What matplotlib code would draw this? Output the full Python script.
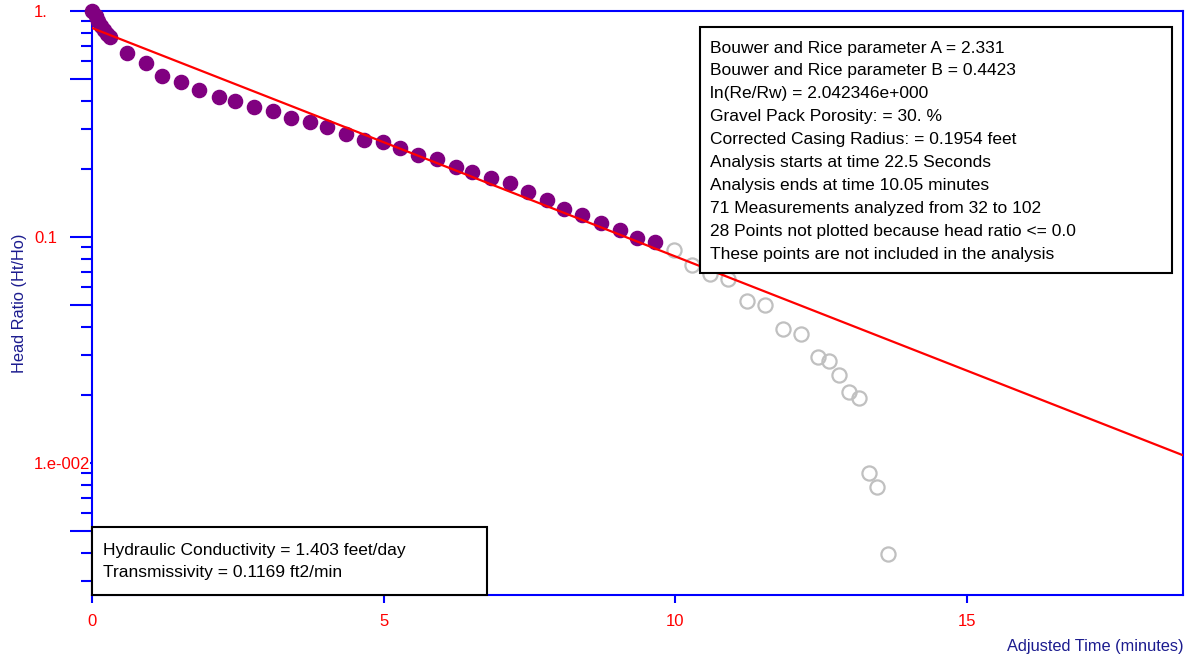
import matplotlib.pyplot as plt
from matplotlib.patches import Rectangle

plt.rcParams['font.family'] = ['Liberation Sans', 'DejaVu Sans']

# measurements used in the analysis (adjusted time in minutes, head ratio Ht/Ho)
t_used = [0.0, 0.06, 0.11, 0.16, 0.21, 0.26, 0.30, 0.60, 0.93, 1.20, 1.53,
          1.84, 2.18, 2.45, 2.78, 3.10, 3.41, 3.74, 4.03, 4.35, 4.66, 4.99,
          5.28, 5.59, 5.91, 6.24, 6.51, 6.84, 7.16, 7.47, 7.80, 8.09, 8.40,
          8.72, 9.05, 9.34, 9.65]
h_used = [1.0, 0.950, 0.903, 0.858, 0.824, 0.791, 0.767, 0.652, 0.589, 0.516,
          0.485, 0.447, 0.416, 0.400, 0.376, 0.361, 0.336, 0.323, 0.307, 0.286,
          0.269, 0.262, 0.248, 0.231, 0.221, 0.204, 0.194, 0.182, 0.173, 0.158,
          0.146, 0.133, 0.125, 0.115, 0.107, 0.0990, 0.0950]

# later measurements, plotted but left out of the fit
t_excl = [9.97, 10.28, 10.60, 10.90, 11.22, 11.53, 11.85, 12.15, 12.45, 12.64,
          12.81, 12.97, 13.14, 13.31, 13.46, 13.64]
h_excl = [0.0876, 0.0752, 0.0686, 0.0652, 0.0521, 0.0500, 0.0392, 0.0372,
          0.0294, 0.0283, 0.0245, 0.0206, 0.0194, 0.00903, 0.00783, 0.00396]

# Bouwer and Rice straight-line fit
t_line = [0.0, 18.7]
h_line = [0.841, 0.0108]

x_ticks = [0, 5, 10, 15]
y_major = [1.0, 0.5, 0.1, 0.05, 0.01, 0.005]
y_major_labels = ['1.', '', '0.1', '', '1.e-002', '']
y_minor = [0.9, 0.8, 0.7, 0.6, 0.4, 0.3, 0.2,
           0.09, 0.08, 0.07, 0.06, 0.04, 0.03, 0.02,
           0.009, 0.008, 0.007, 0.006, 0.004, 0.003]

params_lines = [
    'Bouwer and Rice parameter A = 2.331',
    'Bouwer and Rice parameter B = 0.4423',
    'ln(Re/Rw) = 2.042346e+000',
    'Gravel Pack Porosity: = 30. %',
    'Corrected Casing Radius: = 0.1954 feet',
    'Analysis starts at time 22.5 Seconds',
    'Analysis ends at time 10.05 minutes',
    '71 Measurements analyzed from 32 to 102',
    '28 Points not plotted because head ratio <= 0.0',
    'These points are not included in the analysis',
]
result_lines = [
    'Hydraulic Conductivity = 1.403 feet/day',
    'Transmissivity = 0.1169 ft2/min',
]

blue = '#0000ff'
navy = '#1c1c8f'

fig = plt.figure(figsize=(11.89, 6.56), dpi=100)
ax = fig.add_axes([0.0774, 0.093, 0.9176, 0.8902])

ax.plot(t_excl, h_excl, 'o', ms=10.2, mfc='none', mec='#c0c0c0', mew=1.6, zorder=3)
ax.plot(t_used, h_used, 'o', ms=10.2, color='#800080', mec='#800080',
        clip_on=False, zorder=4)
ax.plot(t_line, h_line, color='red', lw=1.6, zorder=5)

ax.set_yscale('log')
ax.set_xlim(0, 18.7)
ax.set_ylim(0.0026, 1.0)

ax.set_xticks(x_ticks, labels=[str(v) for v in x_ticks])
ax.set_yticks(y_major, labels=y_major_labels, ha='left')
ax.set_yticks(y_minor, minor=True)
ax.yaxis.set_minor_formatter(plt.NullFormatter())

ax.tick_params(axis='x', colors=blue, labelcolor='red', labelsize=12,
               length=5.8, width=1.5, pad=8)
ax.tick_params(axis='y', which='major', colors=blue, labelcolor='red',
               labelsize=12, length=15.8, width=1.5, pad=26)
ax.tick_params(axis='y', which='minor', colors=blue, length=7.9, width=1.5)
for lbl in ax.get_yticklabels():
    lbl.set_bbox(dict(facecolor='white', edgecolor='none', pad=0))

for sp in ax.spines.values():
    sp.set_color(blue)
    sp.set_linewidth(1.5)

ax.set_xlabel('Adjusted Time (minutes)', loc='right', color=navy,
              fontsize=11.8, labelpad=7)
ax.set_ylabel('Head Ratio (Ht/Ho)', color=navy, fontsize=11.8, labelpad=5)

# parameter box, upper right
fig.patches.append(Rectangle((0.5887, 0.5838), 0.3970, 0.3750,
                             transform=fig.transFigure, facecolor='white',
                             edgecolor='black', lw=1.5, zorder=6))
for i, line in enumerate(params_lines):
    fig.text(0.597, 1 - (48 + 22.9 * i) / 656, line, fontsize=12.5,
             color='black', va='center', ha='left', zorder=7)

# results box, lower left
fig.patches.append(Rectangle((0.0774, 0.093), 0.3322, 0.1036,
                             transform=fig.transFigure, facecolor='white',
                             edgecolor='black', lw=1.5, zorder=6))
for i, line in enumerate(result_lines):
    fig.text(0.0866, 1 - (550 + 23 * i) / 656, line, fontsize=12.5,
             color='black', va='center', ha='left', zorder=7)

fig.savefig('out.png', dpi=100)
